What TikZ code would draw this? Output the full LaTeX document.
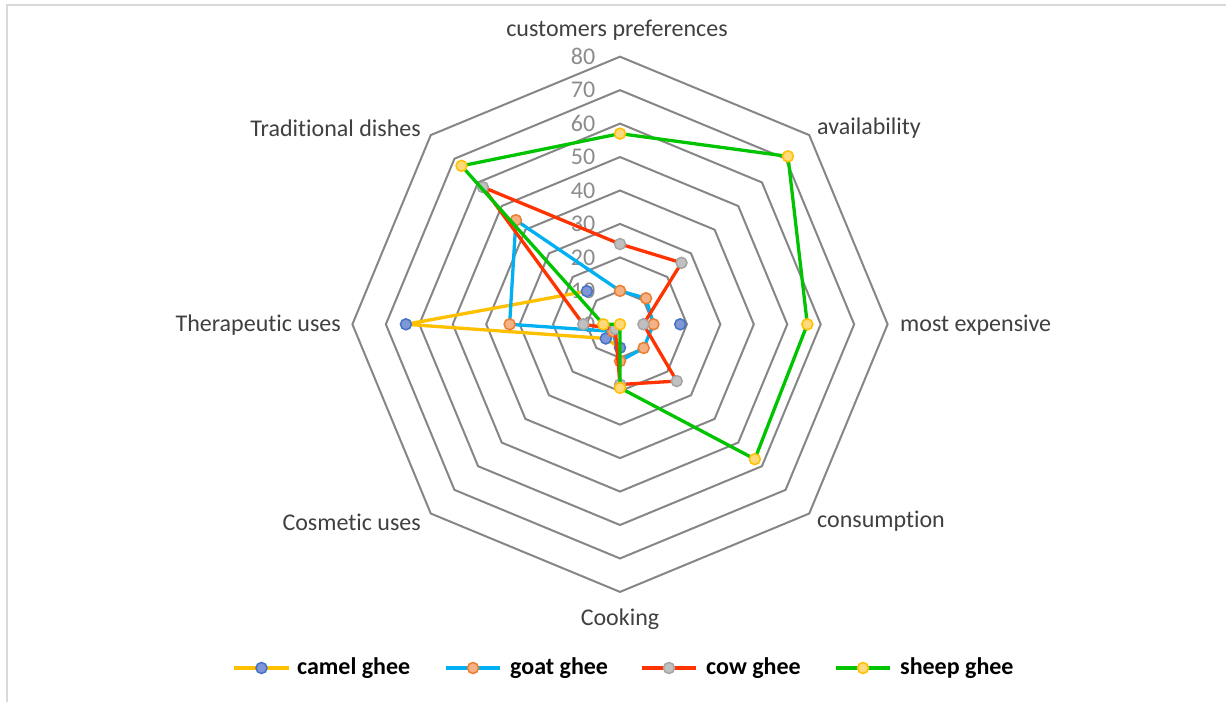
\documentclass[tikz,border=0pt]{standalone}
\usepackage{fontspec}
\setmainfont{Carlito}[Ligatures=NoCommon]
\definecolor{gridc}{HTML}{868686}
\definecolor{numc}{HTML}{8C8C8C}
\definecolor{labc}{HTML}{404040}
\definecolor{framec}{HTML}{D9D9D9}
\definecolor{camelL}{HTML}{FFC000}
\definecolor{camelF}{HTML}{7F97D6}
\definecolor{camelB}{HTML}{4472C4}
\definecolor{goatL}{HTML}{00B0F0}
\definecolor{goatF}{HTML}{F4B183}
\definecolor{goatB}{HTML}{ED7D31}
\definecolor{cowL}{HTML}{FF3300}
\definecolor{cowF}{HTML}{C0C0C0}
\definecolor{cowB}{HTML}{A5A5A5}
\definecolor{sheepL}{HTML}{00C400}
\definecolor{sheepF}{HTML}{FFD97A}
\definecolor{sheepB}{HTML}{FFC000}
\tikzset{
  gridline/.style={draw=gridc, line width=2pt, line join=miter},
  numlbl/.style={text=numc, anchor=east, inner sep=0pt, font=\fontsize{24}{28}\selectfont},
  catlbl/.style={text=labc, inner sep=0pt, font=\fontsize{24}{28}\selectfont},
  leglbl/.style={text=black, anchor=west, inner sep=0pt, font=\fontsize{24}{28}\selectfont\bfseries},
  serline/.style={line width=3.3pt, line join=round, line cap=round},
  mk/.style={circle, inner sep=0pt, minimum size=11pt, line width=1.5pt},
  camelline/.style={serline, draw=camelL},
  goatline/.style={serline, draw=goatL},
  cowline/.style={serline, draw=cowL},
  sheepline/.style={serline, draw=sheepL},
  camelmk/.style={mk, draw=camelB, fill=camelF},
  goatmk/.style={mk, draw=goatB, fill=goatF},
  cowmk/.style={mk, draw=cowB, fill=cowF},
  sheepmk/.style={mk, draw=sheepB, fill=sheepF},
}
\newcommand{\unitpx}{3.345}
\begin{document}
\begin{tikzpicture}[x=1pt, y=-1pt]
\useasboundingbox (0,0) rectangle (1226,702);
\fill[white] (0,0) rectangle (1226,702);
% frame
\draw[framec, line width=2pt] (7,702) -- (7,5) -- (1226,5);

\begin{scope}[shift={(620,324.3)}]
  % grid octagons
  \foreach \k in {1,...,8} {
    \draw[gridline] ({-90}:{\k*10*\unitpx})
      -- ({-45}:{\k*10*\unitpx}) -- ({0}:{\k*10*\unitpx})
      -- ({45}:{\k*10*\unitpx}) -- ({90}:{\k*10*\unitpx})
      -- ({135}:{\k*10*\unitpx}) -- ({180}:{\k*10*\unitpx})
      -- ({225}:{\k*10*\unitpx}) -- cycle;
  }
  % axis numbers
  \foreach \k in {0,...,8} {
    \pgfmathtruncatemacro{\val}{\k*10}
    \node[numlbl] (num\k) at (-24.5, {-\k*10*\unitpx}) {\val};
  }

  % data coordinates
  \foreach \v [count=\i from 0] in {0,0,18,0,7,6,64,14}
    \coordinate (camel\i) at ({-90+45*\i}:{\v*\unitpx});
  \foreach \v [count=\i from 0] in {10,11,10,10,11,3,33,44}
    \coordinate (goat\i) at ({-90+45*\i}:{\v*\unitpx});
  \foreach \v [count=\i from 0] in {24,26,7,24,18,2,11,58}
    \coordinate (cow\i) at ({-90+45*\i}:{\v*\unitpx});
  \foreach \v [count=\i from 0] in {57,71,56,57,19,0,5,67}
    \coordinate (sheep\i) at ({-90+45*\i}:{\v*\unitpx});

  % camel ghee (gaps where no value)
  \draw[camelline] (camel4) -- (camel5) -- (camel6) -- (camel7);
  \foreach \i in {2,4,5,6,7}
    \node[camelmk] (cm\i) at (camel\i) {};

  % goat ghee
  \draw[goatline] (goat0) -- (goat1) -- (goat2) -- (goat3) -- (goat4)
    -- (goat5) -- (goat6) -- (goat7) -- cycle;
  \foreach \i in {0,...,7}
    \node[goatmk] (gm\i) at (goat\i) {};

  % cow ghee
  \draw[cowline] (cow0) -- (cow1) -- (cow2) -- (cow3) -- (cow4)
    -- (cow5) -- (cow6) -- (cow7) -- cycle;
  \foreach \i in {0,...,7}
    \node[cowmk] (wm\i) at (cow\i) {};

  % sheep ghee
  \draw[sheepline] (sheep0) -- (sheep1) -- (sheep2) -- (sheep3) -- (sheep4)
    -- (sheep5) -- (sheep6) -- (sheep7) -- cycle;
  \foreach \i in {0,...,7}
    \node[sheepmk] (sm\i) at (sheep\i) {};
\end{scope}

% category labels
\node[catlbl] (l0) at (617,30) {customers preferences};
\node[catlbl] (l1) at (869,128) {availability};
\node[catlbl, anchor=west] (l2) at (900,325) {most expensive};
\node[catlbl] (l3) at (881,521) {consumption};
\node[catlbl] (l4) at (620,619) {Cooking};
\node[catlbl, anchor=east] (l5) at (421,522) {Cosmetic uses};
\node[catlbl, anchor=east] (l6) at (341,325) {Therapeutic uses};
\node[catlbl, anchor=east] (l7) at (421,128) {Traditional dishes};

% legend
\coordinate (ca) at (234,668); \coordinate (cb) at (289,668);
\draw[camelline, line cap=butt] (ca) -- (cb);
\node[camelmk] (lgc) at (261.5,668) {};
\node[leglbl] (tc) at (297,668) {camel ghee};

\coordinate (ga) at (446,668); \coordinate (gb) at (500,668);
\draw[goatline, line cap=butt] (ga) -- (gb);
\node[goatmk] (lgg) at (473,668) {};
\node[leglbl] (tg) at (510,668) {goat ghee};

\coordinate (wa) at (642,668); \coordinate (wb) at (696,668);
\draw[cowline, line cap=butt] (wa) -- (wb);
\node[cowmk] (lgw) at (669,668) {};
\node[leglbl] (tw) at (706,668) {cow ghee};

\coordinate (sa) at (836,668); \coordinate (sb) at (890,668);
\draw[sheepline, line cap=butt] (sa) -- (sb);
\node[sheepmk] (lgs) at (863,668) {};
\node[leglbl] (ts) at (900,668) {sheep ghee};
\end{tikzpicture}
\end{document}
